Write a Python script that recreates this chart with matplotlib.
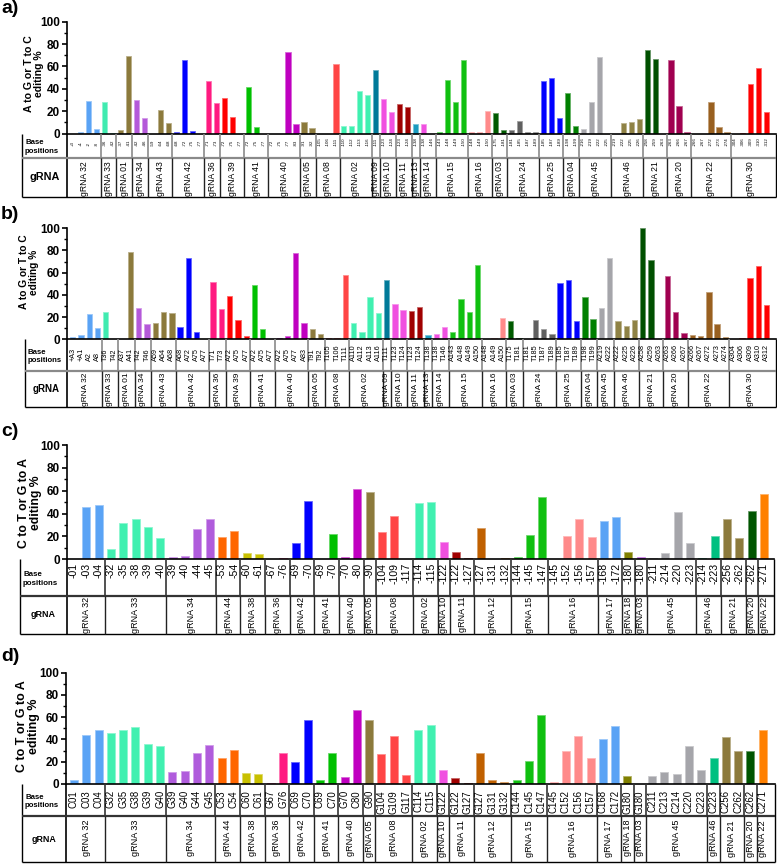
import matplotlib.pyplot as plt
import matplotlib.colors as mcolors
from matplotlib.ticker import MultipleLocator

plt.rcParams['font.family'] = ['Liberation Sans', 'DejaVu Sans']

# ---- panel a / b : A to G or T to C ----
ab_groups = ["gRNA 32", "gRNA 33", "gRNA 01", "gRNA 34", "gRNA 43", "gRNA 42", "gRNA 36", "gRNA 39",
             "gRNA 41", "gRNA 40", "gRNA 05", "gRNA 08", "gRNA 02", "gRNA 09", "gRNA 10", "gRNA 11",
             "gRNA 13", "gRNA 14", "gRNA 15", "gRNA 16", "gRNA 03", "gRNA 24", "gRNA 25", "gRNA 04",
             "gRNA 45", "gRNA 46", "gRNA 21", "gRNA 20", "gRNA 22", "gRNA 30"]
ab_colors = ["#5aa3f5", "#40ebb0", "#8c7a3c", "#b459d9", "#8c7a3c", "#0000ff", "#ff1a80", "#ff0000",
             "#00c000", "#bf00c0", "#8c7a3c", "#ff4545", "#40f0b0", "#007a99", "#f050e0", "#a00000",
             "#1a9bbf", "#f050e0", "#10c010", "#ff8a8a", "#005a00", "#606060", "#0000ff", "#008000",
             "#a5a5aa", "#8f8245", "#005000", "#a00050", "#996020", "#ff0000"]

a_sizes = [4, 2, 2, 2, 3, 4, 2, 3, 3, 4, 2, 3, 4, 1, 2, 2, 1, 2, 4, 3, 2, 4, 3, 2, 4, 4, 3, 3, 5, 5]
a_positions = ["+3", "+1", "-2", "-8", "-36", "-42", "-37", "-41", "-42", "-46", "-59", "-64", "-68",
               "-68", "-72", "-75", "-77", "-71", "-73", "-72", "-75", "-77", "-72", "-75", "-77",
               "-72", "-75", "-77", "-83", "-91", "-92", "-105", "-106", "-111",
               "-110", "-112", "-113", "-116", "-111", "-123", "-124", "-123", "-124", "-138",
               "-138", "-146", "-143", "-148", "-149", "-150", "-148", "-149", "-150", "-175", "-181",
               "-181", "-185", "-187", "-189", "-185", "-187", "-189", "-198", "-199",
               "-216", "-219", "-222", "-225", "-219", "-222", "-225", "-226", "-258", "-259", "-263",
               "-263", "-266", "-267", "-266", "-267", "-272", "-273", "-274",
               "-304", "-306", "-309", "-310", "-312"]
a_values = [0, 1.5, 29, 4, 28, 0.8, 3, 69, 30, 14, 0, 21, 9.5, 1.5, 66, 2.5, 0, 47, 27, 32, 15, 0,
            42, 5.5, 0, 0, 0, 73, 8.5, 10, 4.5, 0, 0, 62, 6.5, 7, 38, 34, 57, 31, 19.5, 26, 23.5, 8.5,
            8.8, 0, 1, 48, 28, 65.5, 1, 1, 19.7, 18, 3, 3, 11.6, 1, 1, 47, 50, 13.5, 36, 6.6,
            4, 28, 68.7, 0, 0, 9, 10, 12.7, 74.3, 66.6, 0, 65.4, 24.6, 1, 0, 0, 28.5, 6, 1,
            0, 0.3, 44, 58.8, 19]

b_sizes = [4, 2, 2, 2, 3, 4, 2, 3, 3, 4, 2, 3, 4, 1, 2, 2, 1, 2, 4, 3, 2, 4, 3, 2, 2, 3, 3, 3, 5, 5]
b_positions = ["+A3", "+A1", "A2", "A8", "T36", "T42", "A37", "A41", "T42", "T46", "A59", "A64", "A68",
               "A68", "A72", "A75", "A77", "T71", "T73", "A72", "A75", "A77", "A72", "A75", "A77",
               "A72", "A75", "A77", "A83", "T91", "T92", "T105", "T106", "T111",
               "A110", "A112", "A113", "A116", "T111", "T123", "T124", "T123", "T124", "T138",
               "T138", "T146", "A143", "A148", "A149", "A150", "A148", "A149", "A150", "T175", "T181",
               "T181", "T185", "T187", "T189", "T185", "T187", "T189", "T198", "T199",
               "A219", "A222", "A222", "A225", "A226", "A258", "A259", "A263",
               "A263", "A266", "A267", "A266", "A267", "A272", "A273", "A274",
               "A304", "A306", "A309", "A310", "A312"]
b_values = [2, 4, 23, 10, 25, 0, 0, 79, 28, 14, 15, 25, 24, 11, 73, 7, 0, 52, 27, 39, 17, 3,
            49, 9, 0, 1, 3, 78, 15, 9, 5, 1, 1, 58, 15, 7, 38, 24, 53, 31.5, 26.5, 25.6, 29.5, 4.2,
            5, 11.5, 7, 36.4, 24.7, 66.6, 0.6, 1.5, 19.6, 16.6, 1.5, 0.6, 17.8, 9.6, 5, 51, 53.6, 16.6,
            38.5, 18.7, 28.6, 72.9, 16.6, 12.3, 17.8, 100, 71.7, 0, 56.6, 24.7, 5.4,
            4.2, 3.3, 42.8, 13.5, 2.4, 0.6, 1.5, 54.8, 65.7, 30.7]

# ---- panel c / d : C to T or G to A ----
cd_groups = ["gRNA 32", "gRNA 33", "gRNA 34", "gRNA 44", "gRNA 38", "gRNA 36", "gRNA 42", "gRNA 41",
             "gRNA 40", "gRNA 05", "gRNA 08", "gRNA 02", "gRNA 10", "gRNA 11", "gRNA 12", "gRNA 15",
             "gRNA 16", "gRNA 17", "gRNA 18", "gRNA 03", "gRNA 45", "gRNA 46", "gRNA 21", "gRNA 20",
             "gRNA 22"]
cd_colors = ["#5aa3f5", "#40f0b0", "#b05cdc", "#ff6600", "#c8c000", "#ff1a80", "#0000ff", "#00c000",
             "#c000c0", "#8c7a3c", "#ff4545", "#40f0b0", "#f050e0", "#a00000", "#c06000", "#10c010",
             "#ff8a8a", "#5aa3f5", "#808000", "#b040e0", "#a5a5aa", "#00c080", "#8c7a3c", "#005500",
             "#ff8000"]

c_sizes = [3, 5, 4, 2, 2, 2, 2, 2, 2, 1, 3, 2, 1, 2, 3, 3, 4, 2, 1, 1, 4, 2, 2, 1, 1]
c_positions = ["-01", "-03", "-04", "-32", "-35", "-38", "-39", "-40", "-39", "-40", "-44", "-45",
               "-53", "-54", "-60", "-61", "-67", "-76", "-69", "-70", "-69", "-70", "-70", "-80",
               "-90", "-104", "-109", "-117", "-114", "-115", "-122", "-122", "-127",
               "-127", "-131", "-132", "-144", "-145", "-147", "-145", "-152", "-156", "-157",
               "-168", "-172", "-180", "-180", "-211", "-214", "-220", "-223", "-214", "-223",
               "-256", "-262", "-262", "-271"]
c_values = [0, 45.5, 47.2, 8.7, 31.5, 35.6, 28.6, 18.4, 2, 2.6, 26.5, 35, 19.2, 24.8, 5.8, 4.4,
            0, 1.2, 14.3, 50.7, 0, 22.2, 2, 61.5, 58.9, 24, 38.2, 0.5, 49, 50.4, 15.5, 6.7, 1.2,
            27, 0, 0.9, 2.3, 21.3, 54.8, 0, 20.4, 35, 19.8, 33.2, 37, 6.7, 2, 1.2, 5.2, 41, 14,
            1.2, 20.7, 35.3, 18.7, 42, 57.4]

d_sizes = [3, 5, 4, 2, 2, 2, 2, 2, 2, 1, 3, 2, 1, 2, 3, 3, 4, 2, 1, 1, 5, 1, 2, 1, 1]
d_positions = ["C01", "C03", "C04", "G32", "G35", "G38", "G39", "G40", "G39", "G40", "G44", "G45",
               "C53", "C54", "C60", "C61", "G67", "G76", "C69", "C70", "C69", "C70", "G70", "C80",
               "G90", "G104", "G109", "G117", "C114", "C115", "G122", "G122", "G127",
               "G127", "G131", "G132", "C144", "C145", "C147", "C145", "C152", "C156", "C157",
               "C168", "C172", "G180", "G180", "C211", "C213", "C214", "C220", "C223", "C223",
               "C256", "C262", "C262", "C271"]
d_values = [3.6, 44, 48.2, 46, 48.2, 51.2, 36, 34, 10.8, 12, 28, 35, 23, 30.2, 9.9, 9,
            0.6, 28, 20, 57.2, 3.9, 28, 6, 66.2, 57.2, 27, 42.8, 7.8, 48.8, 52.7, 12.9, 5, 0.6,
            27.5, 3.3, 1.5, 3.6, 21, 61.7, 1.5, 30, 42.8, 23.7, 40.7, 51.8, 7.5, 0,
            7.5, 10.5, 8.7, 33.8, 12.9, 23.7, 42, 30, 30, 48.2]

W, H = 777, 864
fig = plt.figure(figsize=(W / 100, H / 100), dpi=100)


def fx(px):
    return px / W


def fy(py):
    return 1 - py / H


def lighten(c, f=0.4):
    r, g, b = mcolors.to_rgb(c)
    return (r + (1 - r) * f, g + (1 - g) * f, b + (1 - b) * f)


def draw_panel(letter, letter_y, ylabel, ylab_xy, ylab_fs, groups, sizes, colors, positions, values,
               left, right, y0, y100, row1, row2, tleft, padl, padr,
               pos_fs, pos_y, pos_va, grna_fs, grna_y, head_fs, gr_head_fs, sep_col):
    n = len(values)
    xlim = (-padl, n - 1 + padr)

    bar_cols = []
    for g, s in enumerate(sizes):
        bar_cols += [colors[g]] * s

    ax = fig.add_axes([fx(left), fy(y0), (right - left) / W, (y0 - y100) / H])
    ax.bar(range(n), values, width=0.65, color=bar_cols,
           edgecolor=[lighten(c) for c in bar_cols], linewidth=0.6)
    ax.set_xlim(*xlim)
    ax.set_ylim(0, 100)
    ax.spines['top'].set_visible(False)
    ax.spines['right'].set_visible(False)
    ax.spines['left'].set_linewidth(1.2)
    ax.spines['bottom'].set_linewidth(1.2)
    ax.set_xticks([])
    ax.yaxis.set_major_locator(MultipleLocator(20))
    ax.yaxis.set_minor_locator(MultipleLocator(10))
    ax.tick_params(axis='y', which='major', length=3.5, width=1.2, pad=1.5, labelsize=8.5)
    ax.tick_params(axis='y', which='minor', length=2, width=1)
    for lbl in ax.get_yticklabels():
        lbl.set_fontweight('bold')

    fig.text(fx(1), fy(letter_y), letter, fontsize=14, fontweight='bold', ha='left', va='top')
    fig.text(fx(ylab_xy[0]), fy(ylab_xy[1]), ylabel, rotation=90, ha='center', va='center',
             fontsize=ylab_fs, fontweight='bold', multialignment='center', linespacing=1.05)

    # table under the bars, y in pixel units
    tax = fig.add_axes([fx(left), fy(row2), (right - left) / W, (row2 - y0) / H])
    tax.set_xlim(*xlim)
    tax.set_ylim(row2, y0)
    tax.axis('off')

    def xd(px):
        return xlim[0] + (px - left) / (right - left) * (xlim[1] - xlim[0])

    xl, xr = xd(tleft), xlim[1]
    kw = dict(clip_on=False, solid_capstyle='butt')
    tax.plot([xl, xl], [y0, row2], color='black', lw=1, **kw)
    tax.plot([xlim[0], xlim[0]], [y0, row2], color='black', lw=1.2, **kw)
    tax.plot([xr, xr], [y0, row2], color='black', lw=1, **kw)
    tax.plot([xl, xr], [row1, row1], color=sep_col, lw=1.6, **kw)
    tax.plot([xl, xr], [row2, row2], color='black', lw=1, **kw)

    tax.text(xd(tleft + 3), (y0 + row1) / 2 + 1.5, "Base\npositions", fontsize=head_fs,
             fontweight='bold', ha='left', va='center', linespacing=1.3, clip_on=False)
    tax.text(xd((tleft + left) / 2), (row1 + row2) / 2, "gRNA", fontsize=gr_head_fs,
             fontweight='bold', ha='center', va='center', clip_on=False)

    for i, p in enumerate(positions):
        tax.text(i, pos_y, p, rotation=90, ha='center', va=pos_va, fontsize=pos_fs)

    start = 0
    for g, s in enumerate(sizes):
        if start > 0:
            xb = start - 0.5
            tax.plot([xb, xb], [y0, row1], color=sep_col, lw=1.2, **kw)
            tax.plot([xb, xb], [row1, row2], color='#222222', lw=1, **kw)
        tax.text(start + (s - 1) / 2, grna_y, groups[g], rotation=90, ha='center', va='top',
                 fontsize=grna_fs)
        start += s


draw_panel("a)", 0, "A to G or T to C\nediting %", (34, 74), 7.6,
           ab_groups, a_sizes, ab_colors, a_positions, a_values,
           67, 776, 133.5, 21.7, 158, 197, 22, 0.7, 1.15,
           3.2, 146.5, 'bottom', 6.2, 161.5, 5.6, 7.8, '#8a8a8a')

draw_panel("b)", 206, "A to G or T to C\nediting %", (29, 272), 7.3,
           ab_groups, b_sizes, ab_colors, b_positions, b_values,
           67, 776, 339.3, 228.3, 371, 407, 25, 0.69, 1.13,
           5.2, 361, 'bottom', 6.0, 372.5, 5.6, 7.0, '#8a8a8a')

draw_panel("c)", 423, "C to T or G to A\nediting %", (30, 503), 8.8,
           cd_groups, c_sizes, cd_colors, c_positions, c_values,
           67, 774, 559.3, 445, 595.5, 634, 20, 0.57, 0.81,
           7.6, 563, 'top', 6.5, 597, 5.7, 6.5, '#333333')

draw_panel("d)", 648, "C to T or G to A\nediting %", (28, 726), 9.0,
           cd_groups, d_sizes, cd_colors, d_positions, d_values,
           66, 775, 784, 672.7, 816, 862, 22, 0.65, 1.0,
           6.9, 790, 'top', 6.6, 820, 5.6, 6.4, '#333333')

fig.savefig("out.png", dpi=100)
